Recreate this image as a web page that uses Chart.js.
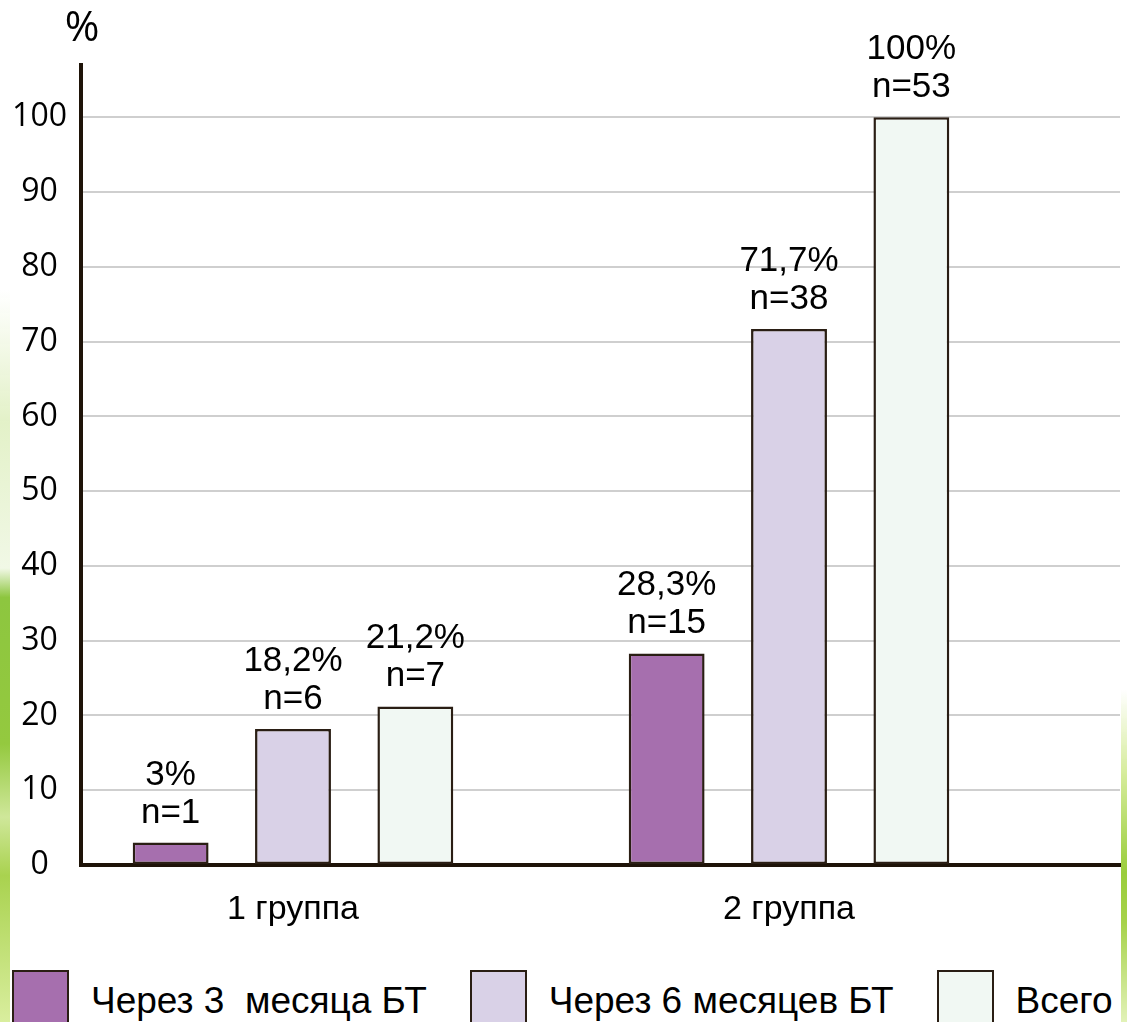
<!DOCTYPE html>
<html lang="ru">
<head>
<meta charset="utf-8">
<title>1 и 2 группа</title>
<script src="https://cdn.jsdelivr.net/npm/chart.js@4.4.1/dist/chart.umd.min.js"></script>
<style>
  html, body { margin: 0; padding: 0; background: #fff; overflow: hidden; }
  #wrap { position: relative; width: 1127px; height: 1022px; overflow: hidden; }
  #chartBox { position: absolute; left: 0; top: 0; width: 1127px; height: 945px; }
  #legend {
    position: absolute; left: 12px; top: 971px; display: flex;
    font-family: "Liberation Sans", Arial, sans-serif; font-size: 37px; color: #000;
    white-space: pre;
  }
  .item { display: flex; align-items: center; height: 60px; margin-right: 43px; }
  .box { width: 53px; height: 58px; border: 2px solid #2a1e14; margin-right: 22px; }
  .stripL {
    position: absolute; left: 0; top: 290px; width: 10px; height: 732px;
    background: linear-gradient(to bottom, rgba(220,238,190,0) 0%, #e3f1c8 18%, #f1f8e6 38%, #8dc63f 42%,
      #94c93f 62%, #cfe79a 72%, #a9d24f 80%, #d9ee9e 100%);
  }
  .stripR {
    position: absolute; left: 1121px; top: 690px; width: 6px; height: 332px;
    background: linear-gradient(to bottom, rgba(230,244,200,0) 0%, #d6ec9c 25%, #9acd3c 55%, #a6d24a 70%, #e2f2b8 100%);
  }
</style>
</head>
<body>
<div id="wrap">
  <div id="chartBox"><canvas id="bars"></canvas></div>
  <div id="legend"></div>
  <div class="stripL"></div>
  <div class="stripR"></div>
</div>
<script>
// categories and series
var categories = ['1 группа', '2 группа'];
var seriesNames = ['Через 3  месяца БТ', 'Через 6 месяцев БТ', 'Всего'];
var seriesColors = ['#a66fae', '#d9d1e7', '#f1f8f3'];

// percent values per group
var months3 = [3, 28.3];
var months6 = [18.2, 71.7];
var total = [21.2, 100];

// patient counts per group
var count3 = [1, 15];
var count6 = [6, 38];
var countTotal = [7, 53];

// y axis ticks
var yTicks = [0, 10, 20, 30, 40, 50, 60, 70, 80, 90, 100];

var values = [months3, months6, total];
var counts = [count3, count6, countTotal];

function toPoints(arr) {
  return arr.map(function (v, i) { return { x: i + 1, y: v }; });
}

function pctText(v) {
  return String(v).replace('.', ',') + '%';
}

var datasets = values.map(function (arr, k) {
  return {
    label: seriesNames[k],
    data: toPoints(arr),
    backgroundColor: seriesColors[k],
    borderColor: '#2a1e14',
    borderWidth: 2.5,
    borderSkipped: false,
    categoryPercentage: 0.74,
    barPercentage: 0.62
  };
});

// labels above bars, and the % sign over the y axis
var barLabels = {
  id: 'barLabels',
  afterDatasetsDraw: function (chart) {
    var ctx = chart.ctx;
    ctx.save();
    ctx.fillStyle = '#000';
    ctx.textAlign = 'center';
    ctx.textBaseline = 'alphabetic';
    ctx.font = '35px "Liberation Sans", Arial, sans-serif';
    chart.data.datasets.forEach(function (ds, k) {
      var meta = chart.getDatasetMeta(k);
      meta.data.forEach(function (bar, i) {
        var base = bar.y - 20;
        ctx.fillText('n=' + counts[k][i], bar.x, base);
        ctx.fillText(pctText(values[k][i]), bar.x, base - 38);
      });
    });
    var ys = chart.scales.y;
    ctx.font = '42px "Open Sans", sans-serif';
    ctx.textBaseline = 'middle';
    ctx.fillText('%', ys.right + 1, 29);
    ctx.restore();
  }
};

// legend
var legendBox = document.getElementById('legend');
seriesNames.forEach(function (name, k) {
  var item = document.createElement('div');
  item.className = 'item';
  var box = document.createElement('div');
  box.className = 'box';
  box.style.background = seriesColors[k];
  var txt = document.createElement('span');
  txt.textContent = name;
  item.appendChild(box);
  item.appendChild(txt);
  legendBox.appendChild(item);
});

new Chart(document.getElementById('bars'), {
  type: 'bar',
  data: { datasets: datasets },
  options: {
    responsive: true,
    maintainAspectRatio: false,
    animation: false,
    layout: { padding: { top: 65, right: 7, left: 0, bottom: 0 } },
    plugins: {
      legend: { display: false },
      tooltip: { enabled: false }
    },
    scales: {
      x: {
        type: 'linear',
        offset: false,
        min: 0.5726,
        max: 2.6673,
        afterBuildTicks: function (scale) {
          scale.ticks = categories.map(function (c, i) { return { value: i + 1 }; });
        },
        afterFit: function (scale) { scale.height = 80; },
        grid: { display: false, drawTicks: false, offset: false },
        border: { display: true, color: '#1e1308', width: 4 },
        ticks: {
          padding: 24,
          color: '#000',
          font: { family: '"Liberation Sans", Arial, sans-serif', size: 34 },
          callback: function (v) { return categories[v - 1]; }
        }
      },
      y: {
        min: 0,
        max: 107,
        afterBuildTicks: function (scale) {
          scale.ticks = yTicks.map(function (v) { return { value: v }; });
        },
        afterFit: function (scale) { scale.width = 81; },
        grid: {
          drawTicks: false,
          lineWidth: 2,
          color: function (c) { return c.tick && c.tick.value === 0 ? 'rgba(0,0,0,0)' : '#cfcfcf'; }
        },
        border: { display: true, color: '#1e1308', width: 4 },
        ticks: {
          padding: 14,
          crossAlign: 'center',
          color: '#000',
          font: { family: '"Open Sans", sans-serif', size: 32 }
        }
      }
    }
  },
  plugins: [barLabels]
});
</script>
</body>
</html>
